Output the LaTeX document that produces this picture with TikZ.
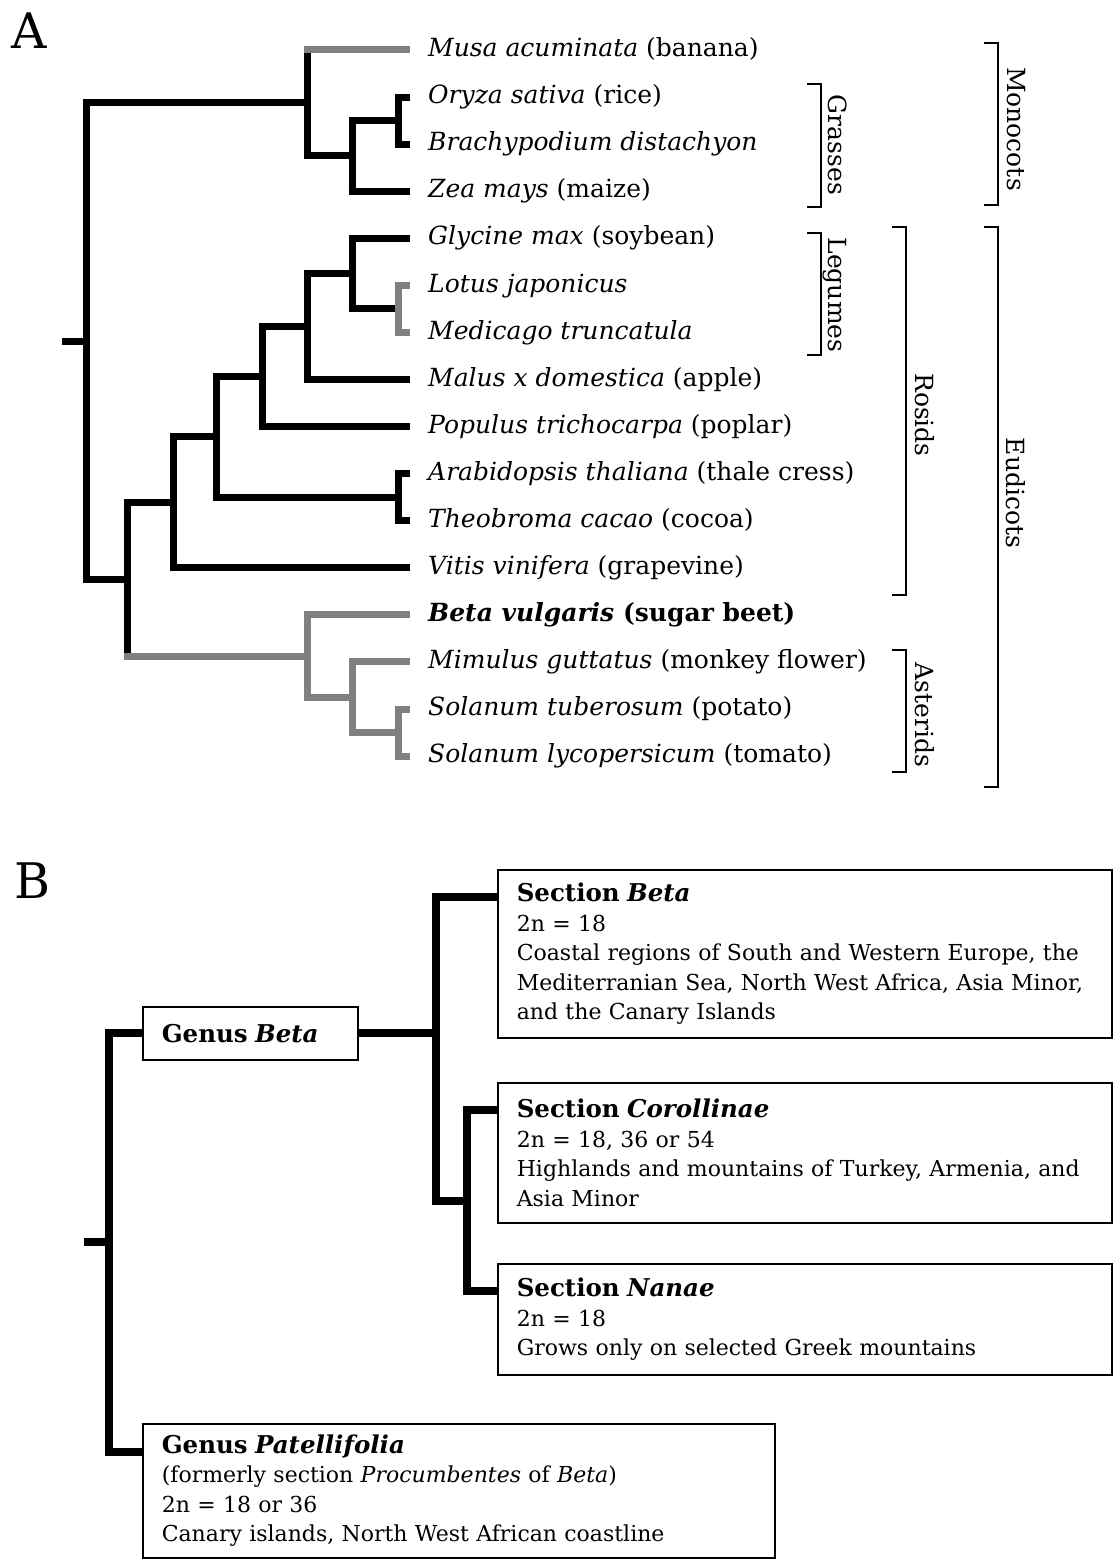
\documentclass[tikz,border=0pt]{standalone}
\usepackage{fontspec}
\setmainfont{DejaVu Serif}
\definecolor{branchgrey}{RGB}{128,128,128}
\tikzset{
	branch/.style = {line width = 7pt},
	twig/.style = {line width = 7pt, shorten <= -3.5pt},
	taxon/.style = {anchor = west, inner xsep = 18pt, inner ysep = 0pt, text height = 18.25pt, text depth = 5pt, font = \fontsize{25}{30}\selectfont},
	clade/.style = {line width = 1.6pt},
	cladename/.style = {rotate = -90, inner sep = 0pt, text height = 18.25pt, text depth = 0pt, font = \fontsize{25}{30}\selectfont},
	panel/.style = {anchor = base west, inner sep = 0pt, font = \fontsize{49}{49}\selectfont},
	infobox/.style = {draw, line width = 1.6pt, anchor = north west, align = left, inner xsep = 19pt, inner ysep = 4pt, font = \fontsize{22}{29.5}\selectfont},
	link/.style = {line width = 8pt},
	sublink/.style = {line width = 8pt, shorten <= -4pt}
}
\newcommand{\boxhead}{\fontsize{24.5}{29.5}\selectfont\bfseries}

\begin{document}
\begin{tikzpicture}[x = 1pt, y = -1pt]
	\useasboundingbox (0,0) rectangle (1113,1560);

	\node[panel] (labA) at (11,49) {A};
	\node[taxon] (musa) at (410,50) {\textit{Musa acuminata} (banana)};
	\node[taxon] (oryza) at (410,97.1) {\textit{Oryza sativa} (rice)};
	\node[taxon] (brachy) at (410,144.1) {\textit{Brachypodium distachyon}};
	\node[taxon] (zea) at (410,191.2) {\textit{Zea mays} (maize)};
	\node[taxon] (glycine) at (410,238.3) {\textit{Glycine max} (soybean)};
	\node[taxon] (lotus) at (410,285.4) {\textit{Lotus japonicus}};
	\node[taxon] (medicago) at (410,332.4) {\textit{Medicago truncatula}};
	\node[taxon] (malus) at (410,379.5) {\textit{Malus x domestica} (apple)};
	\node[taxon] (populus) at (410,426.6) {\textit{Populus trichocarpa} (poplar)};
	\node[taxon] (arab) at (410,473.6) {\textit{Arabidopsis thaliana} (thale cress)};
	\node[taxon] (theo) at (410,520.7) {\textit{Theobroma cacao} (cocoa)};
	\node[taxon] (vitis) at (410,567.8) {\textit{Vitis vinifera} (grapevine)};
	\node[taxon] (beta) at (410,614.8) {\textbf{\textit{Beta vulgaris} (sugar beet)}};
	\node[taxon] (mimulus) at (410,661.9) {\textit{Mimulus guttatus} (monkey flower)};
	\node[taxon] (soltub) at (410,709) {\textit{Solanum tuberosum} (potato)};
	\node[taxon] (sollyc) at (410,756) {\textit{Solanum lycopersicum} (tomato)};

	\coordinate (noryza) at (398,120.6);
	\coordinate (ngrass) at (352,155.9);
	\coordinate (nmono) at (307,103);
	\coordinate (nlotus) at (398,308.9);
	\coordinate (nleg) at (352,273.6);
	\coordinate (nmalus) at (307,326.5);
	\coordinate (npop) at (262,376.6);
	\coordinate (narab) at (398,497.2);
	\coordinate (nrc) at (216,436.9);
	\coordinate (nros) at (173,502.4);
	\coordinate (nsol) at (398,732.5);
	\coordinate (nmim) at (352,697.2);
	\coordinate (nast) at (307,656);
	\coordinate (neud) at (127,579.2);
	\coordinate (nroot) at (86,341.1);
	\coordinate (rootA) at (62,341.1);

	% black part of the tree
	\draw[branch] (noryza |- oryza.west) -- (noryza |- brachy.west);
	\draw[branch] (ngrass |- noryza) -- (ngrass |- zea.west);
	\draw[branch] (nmono |- musa.west) -- (nmono |- ngrass);
	\draw[branch] (nleg |- glycine.west) -- (nleg |- nlotus);
	\draw[branch] (nmalus |- nleg) -- (nmalus |- malus.west);
	\draw[branch] (npop |- nmalus) -- (npop |- populus.west);
	\draw[branch] (narab |- arab.west) -- (narab |- theo.west);
	\draw[branch] (nrc |- npop) -- (nrc |- narab);
	\draw[branch] (nros |- nrc) -- (nros |- vitis.west);
	\draw[branch] (neud |- nros) -- (neud |- nast);
	\draw[branch] (nroot |- nmono) -- (nroot |- neud);
	\draw[branch] (rootA) -- (nroot);
	\draw[twig] (noryza |- oryza.west) -- (oryza.west);
	\draw[twig] (noryza |- brachy.west) -- (brachy.west);
	\draw[twig] (ngrass |- noryza) -- (noryza);
	\draw[twig] (ngrass |- zea.west) -- (zea.west);
	\draw[twig] (nmono |- ngrass) -- (ngrass);
	\draw[twig] (nroot |- nmono) -- (nmono);
	\draw[twig] (nroot |- neud) -- (neud);
	\draw[twig] (nleg |- glycine.west) -- (glycine.west);
	\draw[twig] (nleg |- nlotus) -- (nlotus);
	\draw[twig] (nmalus |- nleg) -- (nleg);
	\draw[twig] (nmalus |- malus.west) -- (malus.west);
	\draw[twig] (npop |- nmalus) -- (nmalus);
	\draw[twig] (npop |- populus.west) -- (populus.west);
	\draw[twig] (nrc |- npop) -- (npop);
	\draw[twig] (nrc |- narab) -- (narab);
	\draw[twig] (narab |- arab.west) -- (arab.west);
	\draw[twig] (narab |- theo.west) -- (theo.west);
	\draw[twig] (nros |- nrc) -- (nrc);
	\draw[twig] (nros |- vitis.west) -- (vitis.west);
	\draw[twig] (neud |- nros) -- (nros);

	% grey part of the tree
	\draw[branch, branchgrey] (nlotus |- lotus.west) -- (nlotus |- medicago.west);
	\draw[branch, branchgrey] (nast |- beta.west) -- (nast |- nmim);
	\draw[branch, branchgrey] (nmim |- mimulus.west) -- (nmim |- nsol);
	\draw[branch, branchgrey] (nsol |- soltub.west) -- (nsol |- sollyc.west);
	\draw[twig, branchgrey] (nmono |- musa.west) -- (musa.west);
	\draw[twig, branchgrey] (nlotus |- lotus.west) -- (lotus.west);
	\draw[twig, branchgrey] (nlotus |- medicago.west) -- (medicago.west);
	\draw[twig, branchgrey] (neud |- nast) -- (nast);
	\draw[twig, branchgrey] (nast |- beta.west) -- (beta.west);
	\draw[twig, branchgrey] (nast |- nmim) -- (nmim);
	\draw[twig, branchgrey] (nmim |- mimulus.west) -- (mimulus.west);
	\draw[twig, branchgrey] (nmim |- nsol) -- (nsol);
	\draw[twig, branchgrey] (nsol |- soltub.west) -- (soltub.west);
	\draw[twig, branchgrey] (nsol |- sollyc.west) -- (sollyc.west);

	\draw[clade] (807,84) -- (821,84) -- (821,207) -- (807,207);
	\node[cladename] (grasses) at (838,145) {Grasses};
	\draw[clade] (807,233) -- (821,233) -- (821,355) -- (807,355);
	\node[cladename] (legumes) at (838,295) {Legumes};
	\draw[clade] (892,227) -- (906,227) -- (906,595) -- (892,595);
	\node[cladename] (rosids) at (925,415) {Rosids};
	\draw[clade] (892,650) -- (906,650) -- (906,772) -- (892,772);
	\node[cladename] (asterids) at (925,715) {Asterids};
	\draw[clade] (984,43) -- (998,43) -- (998,205) -- (984,205);
	\node[cladename] (monocots) at (1017,129) {Monocots};
	\draw[clade] (984,227) -- (998,227) -- (998,787) -- (984,787);
	\node[cladename] (eudicots) at (1016,493) {Eudicots};

	\node[panel] (labB) at (14,898) {B};
	\node[infobox, text width = 177pt, minimum height = 53pt] (genusbeta) at (142,1006) {{\boxhead Genus \textit{Beta}}};
	\node[infobox, text width = 576pt, minimum height = 168pt] (secbeta) at (497,869) {{\boxhead Section \textit{Beta}}\\
		2n = 18\\
		Coastal regions of South and Western Europe, the\\
		Mediterranian Sea, North West Africa, Asia Minor,\\
		and the Canary Islands};
	\node[infobox, text width = 576pt, minimum height = 140pt] (seccor) at (497,1082) {{\boxhead Section \textit{Corollinae}}\\
		2n = 18, 36 or 54\\
		Highlands and mountains of Turkey, Armenia, and\\
		Asia Minor};
	\node[infobox, text width = 576pt, minimum height = 111pt] (secnan) at (497,1263) {{\boxhead Section \textit{Nanae}}\\
		2n = 18\\
		Grows only on selected Greek mountains};
	\node[infobox, text width = 594pt, minimum height = 134pt] (patel) at (142,1423) {{\boxhead Genus \textit{Patellifolia}}\\
		(formerly section \textit{Procumbentes} of \textit{Beta})\\
		2n = 18 or 36\\
		Canary islands, North West African coastline};

	\coordinate (betalink) at ([yshift = -28pt]secbeta.north west);
	\coordinate (corlink) at ([yshift = -28pt]seccor.north west);
	\coordinate (nanlink) at ([yshift = -28pt]secnan.north west);
	\coordinate (patlink) at ([yshift = -29pt]patel.north west);
	\coordinate (ngenus) at (436,1050);
	\coordinate (nsect) at (467,1200.5);
	\coordinate (nB) at (109,1242);
	\coordinate (rootB) at (84,1242);

	\draw[link] (ngenus |- betalink) -- (ngenus |- nsect);
	\draw[link] (nsect |- corlink) -- (nsect |- nanlink);
	\draw[link] (nB |- genusbeta.west) -- (nB |- patlink);
	\draw[link] (rootB) -- (nB);
	\draw[link] (genusbeta.east) -- (ngenus |- genusbeta.east);
	\draw[sublink] (ngenus |- betalink) -- (betalink);
	\draw[sublink] (ngenus |- nsect) -- (nsect);
	\draw[sublink] (nsect |- corlink) -- (corlink);
	\draw[sublink] (nsect |- nanlink) -- (nanlink);
	\draw[sublink] (nB |- genusbeta.west) -- (genusbeta.west);
	\draw[sublink] (nB |- patlink) -- (patlink);
\end{tikzpicture}
\end{document}
